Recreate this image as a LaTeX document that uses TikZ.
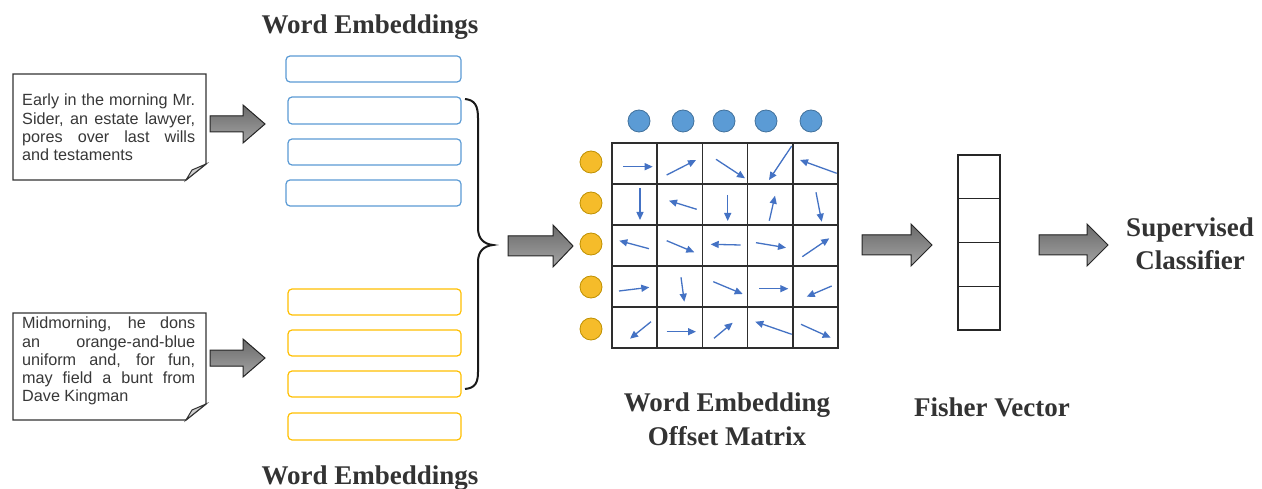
\documentclass[tikz,border=0pt]{standalone}
\usepackage{fontspec}
\setmainfont{Liberation Serif}
\newfontfamily\arialf{Liberation Sans}
\usetikzlibrary{arrows.meta}
\definecolor{embblue}{HTML}{5B9BD5}
\definecolor{embyel}{HTML}{FFC000}
\definecolor{circblue}{HTML}{5B9BD5}
\definecolor{circblueedge}{HTML}{41719C}
\definecolor{circyel}{HTML}{F5BC2A}
\definecolor{circyeledge}{HTML}{BF9000}
\definecolor{vecblue}{HTML}{4472C4}
\definecolor{txtgray}{HTML}{333333}
\definecolor{gridgray}{HTML}{2E2E2E}
\definecolor{arrtop}{HTML}{6A6A6A}
\definecolor{arrbot}{HTML}{A4A4A4}
\tikzset{
  blockstyle/.style={draw=black!85, line width=1pt, top color=arrtop, bottom color=arrbot},
  notebox/.style={draw=black!80, line width=1.3pt, fill=white},
  foldstyle/.style={draw=black!80, line width=1pt, fill=gray!35},
  notetext/.style={inner sep=0pt, text width=173pt, align=justify, text=black!78,
    font=\arialf\fontsize{16.2}{18.2}\selectfont},
  title/.style={inner sep=0pt, align=center, text=txtgray,
    font=\bfseries\fontsize{27}{33.5}\selectfont},
  bluebox/.style={draw=embblue, line width=1.2pt, rounded corners=4pt},
  yelbox/.style={draw=embyel, line width=1.2pt, rounded corners=4pt},
  bcirc/.style={circle, minimum size=22pt, inner sep=0pt, fill=circblue, draw=circblueedge, line width=0.8pt},
  ycirc/.style={circle, minimum size=22pt, inner sep=0pt, fill=circyel, draw=circyeledge, line width=0.8pt},
  gridline/.style={draw=gridgray, line width=1.5pt},
  vec/.style={draw=vecblue, line width=1.3pt, -{Triangle[length=8pt,width=7pt]}},
  bracestyle/.style={draw=black!90, line width=2pt},
}
\newcommand\blockarrow[6]{%
  \filldraw[blockstyle] (#1,#4-#5) -- (#2,#4-#5) -- (#2,#4-#6) -- (#3,#4) -- (#2,#4+#6) -- (#2,#4+#5) -- (#1,#4+#5) -- cycle;}
\begin{document}
\begin{tikzpicture}[x=1pt,y=-1pt]
\useasboundingbox (0,0) rectangle (1262,489);
\fill[white] (0,0) rectangle (1262,489);

% note boxes
\draw[notebox] (13,74) -- (206,74) -- (206,164) -- (186,180) -- (13,180) -- cycle;
\filldraw[foldstyle] (186,180) -- (192,170) -- (206,164) -- cycle;
\node[notetext, anchor=north west] (t1) at (22,93) {\strut Early in the morning Mr.\linebreak Sider, an estate lawyer,\linebreak pores over last wills\linebreak and testaments};

\draw[notebox] (13,313) -- (206,313) -- (206,404) -- (186,420) -- (13,420) -- cycle;
\filldraw[foldstyle] (186,420) -- (192,410) -- (206,404) -- cycle;
\node[notetext, anchor=north west] (t2) at (22,316) {\strut Midmorning, he dons\linebreak an orange-and-blue\linebreak uniform and, for fun,\linebreak may field a bunt from\linebreak Dave Kingman};

% block arrows
\blockarrow{210}{243}{265}{124}{8}{19}
\blockarrow{210}{243}{265}{358}{8}{19}
\blockarrow{508}{553}{573}{246}{10}{21}
\blockarrow{862}{911}{932}{245}{10}{21}
\blockarrow{1039}{1087}{1108}{245}{10}{21}

% titles
\node[title, anchor=base] (wetop) at (370,34) {Word Embeddings};
\node[title, anchor=base] (webot) at (370,484) {Word Embeddings};

% embedding boxes
\draw[bluebox] (286,56) rectangle (461,82);
\draw[bluebox] (288,97) rectangle (461,124);
\draw[bluebox] (288,139) rectangle (461,165);
\draw[bluebox] (286,180) rectangle (461,206);
\draw[yelbox] (288,289) rectangle (461,315);
\draw[yelbox] (288,330) rectangle (461,356);
\draw[yelbox] (288,371) rectangle (461,397);
\draw[yelbox] (288,413) rectangle (461,440);

% brace
\draw[bracestyle] (465,99) .. controls (475,100) and (478,106) .. (478,118) -- (478,228)
  .. controls (478,239) and (484,244) .. (493,245)
  .. controls (484,246) and (478,251) .. (478,262) -- (478,372)
  .. controls (478,383) and (475,388) .. (465,389);

% circles
\foreach \x [count=\i] in {639,683,724,766,811} \node[bcirc] (bc\i) at (\x,121) {};
\foreach \y [count=\i] in {162,203,244,287,329} \node[ycirc] (yc\i) at (591,\y) {};

% matrix grid
\node[gridline, minimum width=226pt, minimum height=205pt, inner sep=0pt] (mat) at (725,245.5) {};
\foreach \x in {657.2,702.4,747.6,792.8} \draw[gridline] (\x,143) -- (\x,348);
\foreach \y in {184,225,266,307} \draw[gridline] (612,\y) -- (838,\y);

% vectors
\draw[vec] (623.3,166.7) -- (652.7,166.7);
\draw[vec] (666.7,175) -- (696,160);
\draw[vec] (716,159.3) -- (745,178.3);
\draw[vec] (791.7,146) -- (769,180);
\draw[vec] (836.7,173.3) -- (800,160);
\draw[vec] (640,188.3) -- (640,220);
\draw[vec] (696.7,209.3) -- (669,200.7);
\draw[vec] (727.7,195) -- (727.7,221);
\draw[vec] (769.3,220.7) -- (775,195.7);
\draw[vec] (816,192.3) -- (821.7,221.7);
\draw[vec] (649,248.7) -- (619.3,240.7);
\draw[vec] (666.7,240.7) -- (694.3,252.3);
\draw[vec] (740.7,245) -- (710.7,244.3);
\draw[vec] (756,242.7) -- (786,247.7);
\draw[vec] (802.3,256.7) -- (829.3,238.3);
\draw[vec] (619,291) -- (649.3,287.3);
\draw[vec] (681,277.3) -- (684.3,301.7);
\draw[vec] (713.3,281.7) -- (742.7,294);
\draw[vec] (759,288.7) -- (788.3,288.7);
\draw[vec] (831.7,286) -- (806.7,296.7);
\draw[vec] (651,321.7) -- (630,338.7);
\draw[vec] (666.7,331.7) -- (696,331.7);
\draw[vec] (714,338.3) -- (732.7,322.7);
\draw[vec] (791.7,334.3) -- (755.3,321.7);
\draw[vec] (801,324.3) -- (830.7,337.7);

\node[title, anchor=base] (mattitle) at (727,445) {Word Embedding\\Offset Matrix};

% fisher vector
\node[draw=black!85, line width=1.3pt, minimum width=42pt, minimum height=175pt, inner sep=0pt] (fv) at (979,242.5) {};
\foreach \y in {198.75,242.5,286.25} \draw[draw=black!85, line width=1.3pt] (958,\y) -- (1000,\y);
\node[title, anchor=base] (fvtitle) at (992,416) {Fisher Vector};

\node[title, anchor=base] (clf) at (1190,270) {Supervised\\Classifier};
\end{tikzpicture}
\end{document}
